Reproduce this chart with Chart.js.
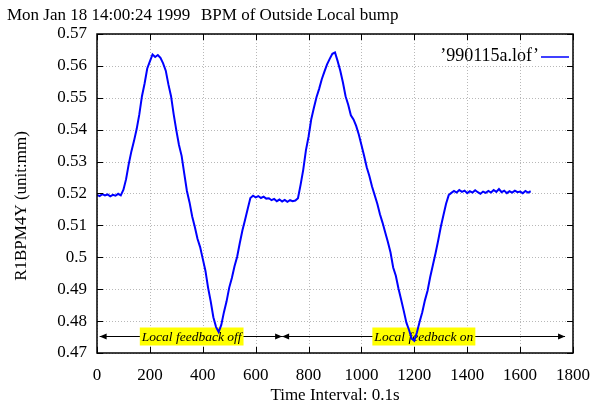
<!DOCTYPE html>
<html>
<head>
<meta charset="utf-8">
<script src="https://cdn.jsdelivr.net/npm/chart.js@4.4.1/dist/chart.umd.min.js"></script>
<style>
  html, body { margin: 0; padding: 0; background: #fff; }
  #wrap { width: 602px; height: 409px; }
</style>
</head>
<body>
<div id="wrap"><canvas id="bpm" width="602" height="409"></canvas></div>
<script>
// Texts
const TITLE_DATE = 'Mon Jan 18 14:00:24 1999';
const TITLE_TEXT = 'BPM of Outside Local bump';
const SERIES_NAME = '\u2019990115a.lof\u2019';
const X_TITLE = 'Time Interval: 0.1s';
const Y_TITLE = 'R1BPM4Y (unit:mm)';

// Axis ticks
const xTicks = [0, 200, 400, 600, 800, 1000, 1200, 1400, 1600, 1800];
const yTicks = [0.47, 0.48, 0.49, 0.5, 0.51, 0.52, 0.53, 0.54, 0.55, 0.56, 0.57];

// Sample index (units of 0.1 s), read every 10 samples
const timeIdx = [
    0, 10, 20, 30, 40, 50, 60, 70, 80, 90,
    100, 110, 120, 130, 140, 150, 160, 170, 180, 190,
    200, 210, 220, 230, 240, 250, 260, 270, 280, 290,
    300, 310, 320, 330, 340, 350, 360, 370, 380, 390,
    400, 410, 420, 430, 440, 450, 460, 470, 480, 490,
    500, 510, 520, 530, 540, 550, 560, 570, 580, 590,
    600, 610, 620, 630, 640, 650, 660, 670, 680, 690,
    700, 710, 720, 730, 740, 750, 760, 770, 780, 790,
    800, 810, 820, 830, 840, 850, 860, 870, 880, 890,
    900, 910, 920, 930, 940, 950, 960, 970, 980, 990,
    1000, 1010, 1020, 1030, 1040, 1050, 1060, 1070, 1080, 1090,
    1100, 1110, 1120, 1130, 1140, 1150, 1160, 1170, 1180, 1190,
    1200, 1210, 1220, 1230, 1240, 1250, 1260, 1270, 1280, 1290,
    1300, 1310, 1320, 1330, 1340, 1350, 1360, 1370, 1380, 1390,
    1400, 1410, 1420, 1430, 1440, 1450, 1460, 1470, 1480, 1490,
    1500, 1510, 1520, 1530, 1540, 1550, 1560, 1570, 1580, 1590,
    1600, 1610, 1620, 1630, 1640
];

// R1BPM4Y position (mm)
const bpmValues = [
    0.5196, 0.5192, 0.5198, 0.5194, 0.5197, 0.5191, 0.5196, 0.5193, 0.5199, 0.5194,
    0.5212, 0.5245, 0.5292, 0.5332, 0.5365, 0.5402, 0.5448, 0.5505, 0.5545, 0.5592,
    0.5614, 0.5636, 0.5628, 0.5634, 0.5625, 0.5608, 0.5585, 0.5542, 0.5505, 0.5448,
    0.5398, 0.5352, 0.5318, 0.5262, 0.5208, 0.5172, 0.5128, 0.5095, 0.5058, 0.5032,
    0.4995, 0.4958, 0.4905, 0.4862, 0.4812, 0.4782, 0.4766, 0.4788, 0.4828, 0.4862,
    0.4905, 0.4935, 0.4972, 0.5002, 0.5045, 0.5085, 0.5118, 0.5152, 0.5186, 0.5193,
    0.5188, 0.5192, 0.5186, 0.5190, 0.5184, 0.5185, 0.5179, 0.5183, 0.5176, 0.5181,
    0.5175, 0.5180, 0.5174, 0.5179, 0.5176, 0.5178, 0.5185, 0.5228, 0.5275, 0.5335,
    0.5378, 0.5432, 0.5468, 0.5502, 0.5528, 0.5558, 0.5582, 0.5605, 0.5622, 0.5638,
    0.5642, 0.5615, 0.5585, 0.5548, 0.5505, 0.5478, 0.5445, 0.5432, 0.5412, 0.5385,
    0.5352, 0.5318, 0.5282, 0.5255, 0.5222, 0.5195, 0.5168, 0.5135, 0.5108, 0.5078,
    0.5048, 0.5015, 0.4968, 0.4942, 0.4902, 0.4868, 0.4832, 0.4795, 0.4772, 0.4745,
    0.4738, 0.4765, 0.4798, 0.4828, 0.4865, 0.4895, 0.4938, 0.4975, 0.5012, 0.5052,
    0.5095, 0.5132, 0.5168, 0.5195, 0.5202, 0.5208, 0.5203, 0.5211, 0.5205, 0.5209,
    0.5201, 0.5207, 0.5203, 0.5210, 0.5204, 0.5199, 0.5206, 0.5202, 0.5208, 0.5203,
    0.5211, 0.5205, 0.5214, 0.5204, 0.5209, 0.5201, 0.5207, 0.5203, 0.5209, 0.5204,
    0.5206, 0.5201, 0.5208, 0.5203, 0.5207
];

// Feedback regions (double-headed arrows with a label)
const regionLabels = ['Local feedback off', 'Local feedback on'];
const regionStart = [10, 700];
const regionEnd = [700, 1770];
const regionLabelX = [358, 1236];
const regionLevel = 0.4753;

const SERIF = "'Liberation Serif', 'Times New Roman', 'DejaVu Serif', serif";
const LINE_BLUE = '#0000ff';

function arrowHead(ctx, x, y, dir) {
    ctx.beginPath();
    ctx.moveTo(x, y);
    ctx.lineTo(x - dir * 7, y - 3);
    ctx.lineTo(x - dir * 7, y + 3);
    ctx.closePath();
    ctx.fill();
}

// gnuplot-ish frame: dotted grid, inward ticks, labels, legend
const gnuplotFrame = {
    id: 'gnuplotFrame',
    beforeDatasetsDraw(chart) {
        const { ctx, chartArea: a, scales: { x, y } } = chart;
        ctx.save();
        // dotted grid
        ctx.strokeStyle = '#b8b8b8';
        ctx.lineWidth = 1;
        ctx.setLineDash([1, 2]);
        xTicks.forEach(v => {
            const px = Math.round(x.getPixelForValue(v)) + 0.5;
            ctx.beginPath(); ctx.moveTo(px, a.top); ctx.lineTo(px, a.bottom); ctx.stroke();
        });
        yTicks.forEach(v => {
            const py = Math.round(y.getPixelForValue(v)) + 0.5;
            ctx.beginPath(); ctx.moveTo(a.left, py); ctx.lineTo(a.right, py); ctx.stroke();
        });
        ctx.setLineDash([]);

        // region arrows and yellow labels
        const py = Math.round(y.getPixelForValue(regionLevel)) + 0.5;
        ctx.strokeStyle = '#000';
        ctx.fillStyle = '#000';
        regionLabels.forEach((txt, i) => {
            const x0 = x.getPixelForValue(regionStart[i]);
            const x1 = x.getPixelForValue(regionEnd[i]);
            ctx.beginPath(); ctx.moveTo(x0, py); ctx.lineTo(x1, py); ctx.stroke();
            arrowHead(ctx, x0, py, -1);
            arrowHead(ctx, x1, py, 1);
        });
        ctx.font = 'italic 13.5px ' + SERIF;
        ctx.textAlign = 'center';
        ctx.textBaseline = 'middle';
        regionLabels.forEach((txt, i) => {
            const cx = x.getPixelForValue(regionLabelX[i]);
            const w = ctx.measureText(txt).width + 4;
            ctx.fillStyle = '#ffff00';
            ctx.fillRect(cx - w / 2, py - 9, w, 18);
            ctx.fillStyle = '#000';
            ctx.fillText(txt, cx, py + 1);
        });
        ctx.restore();
    },
    afterDatasetsDraw(chart) {
        const { ctx, chartArea: a, scales: { x, y } } = chart;
        ctx.save();
        ctx.strokeStyle = '#000';
        ctx.lineWidth = 1.5;
        ctx.strokeRect(a.left, a.top, a.right - a.left, a.bottom - a.top);
        ctx.lineWidth = 1;
        xTicks.forEach(v => {
            const px = Math.round(x.getPixelForValue(v)) + 0.5;
            ctx.beginPath();
            ctx.moveTo(px, a.bottom); ctx.lineTo(px, a.bottom - 6);
            ctx.moveTo(px, a.top); ctx.lineTo(px, a.top + 6);
            ctx.stroke();
        });
        yTicks.forEach(v => {
            const py = Math.round(y.getPixelForValue(v)) + 0.5;
            ctx.beginPath();
            ctx.moveTo(a.left, py); ctx.lineTo(a.left + 6, py);
            ctx.moveTo(a.right, py); ctx.lineTo(a.right - 6, py);
            ctx.stroke();
        });

        // legend (text then line sample)
        ctx.fillStyle = '#000';
        ctx.font = '18px ' + SERIF;
        ctx.textAlign = 'right';
        ctx.textBaseline = 'alphabetic';
        ctx.fillText(SERIES_NAME, 539, 61);
        ctx.strokeStyle = LINE_BLUE;
        ctx.lineWidth = 1.5;
        ctx.beginPath(); ctx.moveTo(541, 57); ctx.lineTo(569, 57); ctx.stroke();

        // titles
        ctx.font = '17px ' + SERIF;
        ctx.textAlign = 'left';
        ctx.fillText(TITLE_DATE, 7, 20);
        ctx.fillText(TITLE_TEXT, 201, 20);
        ctx.textAlign = 'center';
        ctx.textBaseline = 'middle';
        ctx.fillText(X_TITLE, (a.left + a.right) / 2, 396);
        ctx.translate(22, 206);
        ctx.rotate(-Math.PI / 2);
        ctx.fillText(Y_TITLE, 0, 0);
        ctx.restore();
    }
};

const tickFont = { family: SERIF, size: 17 };

new Chart(document.getElementById('bpm'), {
    type: 'line',
    data: {
        datasets: [{
            label: SERIES_NAME,
            data: timeIdx.map((t, i) => ({ x: t, y: bpmValues[i] })),
            borderColor: LINE_BLUE,
            borderWidth: 2,
            pointRadius: 0,
            tension: 0,
            fill: false,
        }]
    },
    options: {
        responsive: false,
        animation: false,
        layout: { padding: { top: 34, right: 23, left: 0, bottom: 0 } },
        plugins: {
            legend: { display: false },
            tooltip: { enabled: false },
        },
        scales: {
            x: {
                type: 'linear',
                min: 0,
                max: 1800,
                afterBuildTicks: s => { s.ticks = xTicks.map(v => ({ value: v })); },
                afterFit: s => { s.height = 56; },
                grid: { display: false, drawTicks: false },
                border: { display: false },
                ticks: {
                    color: '#000',
                    font: tickFont,
                    padding: 12,
                    maxRotation: 0,
                    autoSkip: false,
                    callback: v => String(v),
                },
            },
            y: {
                min: 0.47,
                max: 0.57,
                afterBuildTicks: s => { s.ticks = yTicks.map(v => ({ value: v })); },
                afterFit: s => { s.width = 97; },
                grid: { display: false, drawTicks: false },
                border: { display: false },
                ticks: {
                    color: '#000',
                    font: tickFont,
                    padding: 10,
                    autoSkip: false,
                    callback: v => String(parseFloat(v.toFixed(2))),
                },
            }
        }
    },
    plugins: [gnuplotFrame],
});
</script>
</body>
</html>
